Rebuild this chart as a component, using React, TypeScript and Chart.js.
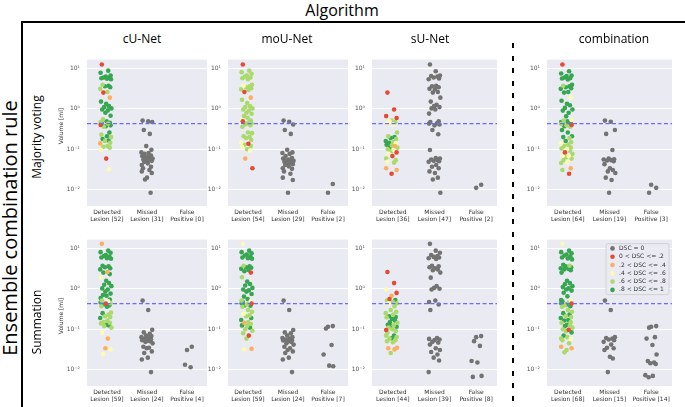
import React, { useEffect, useRef } from 'react';
import { Chart, registerables } from 'chart.js';
Chart.register(...registerables);

// ---------- text ----------
const MAIN_TITLE = 'Algorithm';
const SIDE_TITLE = 'Ensemble combination rule';
const COL_TITLES = ['cU-Net', 'moU-Net', 'sU-Net', 'combination'];
const ROW_TITLES = ['Majority voting', 'Summation'];
const Y_LABEL = 'Volume [ml]';
const CAT_LINE1 = ['Detected', 'Missed', 'False'];
const CAT_LINE2 = ['Lesion', 'Lesion', 'Positive'];
const Y_TICKS = [0.01, 0.1, 1, 10];
const Y_TICK_LABELS = ['10\u207B\u00B2', '10\u207B\u00B9', '10\u2070', '10\u00B9'];
const LEGEND_LABELS = ['DSC = 0', '0 < DSC <= .2', '.2 < DSC <= .4', '.4 < DSC <= .6', '.6 < DSC <= .8', '.8 < DSC <= 1'];
const THRESHOLD_ML = 0.43;
const Y_MIN = 0.004;
const Y_MAX = 16.3;

// ---------- data: detected lesions as [volume ml, DSC class 1..5] ----------
const CUNET_MV_DET: [number, number][] = [[12.3,1],[8.7,5],[7.7,5],[6.6,5],[6.2,5],[5.9,5],[5.8,5],[5.65,5],[5.5,5],[5.35,5],[3.9,4],[3.7,5],[3.6,5],[3.4,5],[3.1,4],[2.6,4],[2.5,1],[1.88,2],[1.5,5],[1.33,5],[1.16,5],[1.1,5],[1.02,5],[0.96,5],[0.91,5],[0.8,5],[0.67,5],[0.55,4],[0.49,5],[0.47,4],[0.45,5],[0.44,5],[0.43,4],[0.4,1],[0.39,5],[0.37,5],[0.36,4],[0.26,5],[0.23,4],[0.21,5],[0.2,4],[0.18,5],[0.165,5],[0.16,4],[0.145,4],[0.14,2],[0.12,4],[0.115,4],[0.11,4],[0.096,3],[0.059,1],[0.032,3]];
const CUNET_MV_MISS = [0.51,0.49,0.47,0.30,0.24,0.12,0.097,0.084,0.081,0.077,0.07,0.068,0.064,0.062,0.061,0.059,0.056,0.054,0.054,0.052,0.049,0.045,0.041,0.037,0.034,0.031,0.0285,0.026,0.020,0.018,0.0085];
const CUNET_MV_FP: number[] = [];
const CUNET_MV_COUNTS = [52, 31, 0];

const MOUNET_MV_DET: [number, number][] = [[12.3,1],[8.7,4],[8.0,4],[7.3,4],[6.6,4],[6.2,4],[5.9,4],[5.65,4],[5.35,4],[3.9,4],[3.7,3],[3.6,4],[3.4,4],[3.2,4],[3.0,4],[2.9,4],[2.6,1],[1.88,2],[1.66,4],[1.38,4],[1.16,4],[1.1,4],[1.02,4],[0.96,4],[0.9,4],[0.8,4],[0.75,4],[0.66,4],[0.6,4],[0.53,3],[0.51,4],[0.49,1],[0.47,4],[0.45,3],[0.44,4],[0.43,4],[0.41,4],[0.39,4],[0.36,4],[0.26,4],[0.25,4],[0.21,4],[0.2,4],[0.19,4],[0.17,4],[0.145,3],[0.137,1],[0.13,4],[0.12,4],[0.115,3],[0.1,4],[0.092,3],[0.059,2],[0.034,1]];
const MOUNET_MV_MISS = [0.51,0.48,0.41,0.30,0.24,0.097,0.084,0.081,0.077,0.068,0.061,0.059,0.056,0.054,0.053,0.052,0.049,0.047,0.045,0.043,0.041,0.038,0.034,0.033,0.0285,0.025,0.020,0.0175,0.0085];
const MOUNET_MV_FP = [0.014, 0.0085];
const MOUNET_MV_COUNTS = [54, 29, 2];

const SUNET_MV_DET: [number, number][] = [[2.5,1],[0.96,1],[0.66,1],[0.59,1],[0.51,4],[0.49,3],[0.47,4],[0.44,3],[0.41,3],[0.26,4],[0.21,4],[0.2,5],[0.19,5],[0.18,4],[0.16,5],[0.15,4],[0.145,5],[0.14,3],[0.13,5],[0.125,4],[0.12,2],[0.115,5],[0.11,4],[0.1,4],[0.097,3],[0.09,4],[0.084,1],[0.077,3],[0.068,1],[0.059,4],[0.054,4],[0.049,3],[0.047,4],[0.034,2],[0.031,2],[0.025,1]];
const SUNET_MV_MISS = [12.3,8.4,6.6,6.4,6.2,5.9,5.55,5.35,3.7,3.6,3.4,3.1,3.0,2.6,2.5,1.88,1.5,1.26,1.16,1.1,1.02,0.96,0.76,0.49,0.47,0.44,0.43,0.41,0.39,0.30,0.235,0.096,0.061,0.059,0.056,0.054,0.052,0.051,0.049,0.041,0.037,0.034,0.0285,0.026,0.020,0.018,0.0085];
const SUNET_MV_FP = [0.0134, 0.0112];
const SUNET_MV_COUNTS = [36, 47, 2];

const COMB_MV_DET: [number, number][] = [[12.3,1],[8.4,5],[7.4,5],[6.6,5],[6.4,5],[5.9,5],[5.7,5],[5.55,5],[5.3,5],[3.9,5],[3.7,4],[3.6,5],[3.4,5],[3.2,5],[3.1,5],[2.6,5],[2.5,5],[1.88,3],[1.57,5],[1.33,5],[1.22,5],[1.05,5],[0.96,5],[0.9,5],[0.8,5],[0.65,5],[0.53,3],[0.51,4],[0.49,5],[0.47,5],[0.45,5],[0.44,5],[0.43,5],[0.42,4],[0.4,1],[0.39,4],[0.37,5],[0.36,4],[0.3,5],[0.26,5],[0.21,5],[0.2,5],[0.19,4],[0.16,5],[0.15,4],[0.14,3],[0.13,4],[0.12,4],[0.11,4],[0.105,4],[0.1,3],[0.092,4],[0.084,1],[0.077,4],[0.07,3],[0.068,3],[0.064,4],[0.059,4],[0.054,4],[0.049,3],[0.046,4],[0.034,2],[0.031,4],[0.025,1]];
const COMB_MV_MISS = [0.51,0.48,0.30,0.24,0.096,0.059,0.057,0.056,0.054,0.053,0.051,0.043,0.034,0.031,0.0285,0.026,0.020,0.0175,0.0085];
const COMB_MV_FP = [0.0112, 0.0134, 0.0085];
const COMB_MV_COUNTS = [64, 19, 3];

const CUNET_SUM_DET: [number, number][] = [[12.8,2],[8.7,5],[8.0,5],[7.7,5],[6.8,5],[6.4,5],[6.2,5],[5.9,5],[5.65,5],[5.5,5],[3.7,5],[3.6,5],[3.4,5],[3.2,5],[3.0,5],[2.6,2],[2.5,5],[2.3,5],[1.88,3],[1.57,5],[1.38,5],[1.26,5],[1.16,5],[1.02,5],[0.96,5],[0.85,5],[0.76,5],[0.7,5],[0.67,5],[0.59,5],[0.54,5],[0.51,4],[0.49,3],[0.46,5],[0.44,4],[0.43,1],[0.41,5],[0.39,5],[0.37,4],[0.36,5],[0.26,4],[0.25,5],[0.23,4],[0.21,4],[0.2,4],[0.19,5],[0.165,4],[0.15,4],[0.145,4],[0.14,4],[0.13,5],[0.125,5],[0.12,4],[0.11,4],[0.084,3],[0.059,2],[0.034,2],[0.032,3],[0.0245,3]];
const CUNET_SUM_MISS = [0.51,0.30,0.097,0.084,0.077,0.07,0.068,0.064,0.061,0.059,0.056,0.054,0.052,0.051,0.049,0.045,0.037,0.035,0.034,0.0285,0.026,0.020,0.018,0.0088];
const CUNET_SUM_FP = [0.037, 0.031, 0.0134, 0.0116];
const CUNET_SUM_COUNTS = [59, 24, 4];

const MOUNET_SUM_DET: [number, number][] = [[12.8,3],[8.7,5],[8.0,5],[7.5,5],[7.0,5],[6.6,5],[6.2,5],[5.9,5],[5.65,5],[5.5,5],[3.7,4],[3.6,5],[3.4,5],[3.3,5],[3.1,5],[2.9,5],[2.7,5],[2.5,1],[1.92,4],[1.5,5],[1.31,5],[1.2,5],[1.05,5],[0.96,5],[0.91,5],[0.85,5],[0.74,5],[0.64,5],[0.56,5],[0.51,4],[0.49,3],[0.47,5],[0.45,4],[0.44,5],[0.43,1],[0.41,4],[0.39,5],[0.38,5],[0.36,4],[0.3,4],[0.27,4],[0.24,3],[0.22,4],[0.21,4],[0.19,5],[0.17,5],[0.15,4],[0.145,2],[0.135,4],[0.125,5],[0.12,4],[0.11,5],[0.1,4],[0.092,4],[0.08,4],[0.07,1],[0.059,4],[0.033,2],[0.032,3]];
const MOUNET_SUM_MISS = [0.51,0.30,0.096,0.084,0.08,0.07,0.064,0.061,0.059,0.056,0.054,0.053,0.051,0.049,0.045,0.042,0.037,0.034,0.031,0.0285,0.026,0.020,0.018,0.0088];
const MOUNET_SUM_FP = [0.12, 0.116, 0.105, 0.041, 0.024, 0.0127, 0.0123];
const MOUNET_SUM_COUNTS = [59, 24, 7];

const SUNET_SUM_DET: [number, number][] = [[2.6,1],[1.38,1],[0.96,3],[0.79,1],[0.67,2],[0.56,1],[0.53,5],[0.51,4],[0.47,4],[0.44,4],[0.43,3],[0.37,4],[0.3,4],[0.27,4],[0.25,4],[0.23,4],[0.21,5],[0.2,5],[0.197,4],[0.18,5],[0.165,5],[0.15,5],[0.145,4],[0.13,5],[0.125,4],[0.12,5],[0.116,5],[0.11,4],[0.1,4],[0.096,1],[0.09,4],[0.084,4],[0.07,5],[0.07,4],[0.064,4],[0.06,5],[0.059,4],[0.054,4],[0.051,4],[0.048,4],[0.035,2],[0.034,2],[0.032,2],[0.026,4]];
const SUNET_SUM_MISS = [12.8,8.7,7.7,6.8,6.4,6.1,5.9,5.65,5.4,3.7,3.6,3.4,3.2,3.0,2.85,2.5,1.88,1.16,1.05,1.0,0.96,0.51,0.47,0.41,0.30,0.061,0.058,0.056,0.054,0.049,0.047,0.042,0.034,0.031,0.0275,0.024,0.020,0.017,0.0088];
const SUNET_SUM_FP = [0.068, 0.064, 0.051, 0.039, 0.0165, 0.0152, 0.0071, 0.0067];
const SUNET_SUM_COUNTS = [44, 39, 8];

const COMB_SUM_DET: [number, number][] = [[12.8,3],[8.7,5],[8.0,5],[7.5,5],[7.0,5],[6.6,5],[6.2,5],[5.9,5],[5.55,5],[5.3,5],[3.9,5],[3.7,4],[3.6,5],[3.4,5],[3.2,5],[3.1,5],[3.0,5],[2.85,5],[2.5,5],[1.57,5],[1.38,5],[1.3,5],[1.16,5],[1.1,5],[1.02,5],[0.96,5],[0.9,5],[0.8,5],[0.65,5],[0.53,5],[0.51,3],[0.49,5],[0.47,4],[0.44,5],[0.43,1],[0.41,5],[0.39,4],[0.37,5],[0.36,4],[0.3,4],[0.27,4],[0.25,5],[0.23,5],[0.21,4],[0.2,4],[0.19,5],[0.17,5],[0.165,5],[0.15,4],[0.145,4],[0.13,5],[0.125,4],[0.12,5],[0.11,4],[0.1,4],[0.097,1],[0.09,4],[0.084,5],[0.07,5],[0.064,4],[0.059,4],[0.058,3],[0.054,4],[0.045,4],[0.037,2],[0.034,2],[0.031,4],[0.027,4]];
const COMB_SUM_MISS = [0.51,0.30,0.064,0.061,0.059,0.056,0.054,0.049,0.042,0.035,0.034,0.031,0.021,0.019,0.0088];
const COMB_SUM_FP = [0.12,0.116,0.11,0.064,0.059,0.041,0.024,0.0165,0.0152,0.0145,0.014,0.0074,0.0071,0.0066];
const COMB_SUM_COUNTS = [68, 15, 14];

// strip-plot horizontal offsets (category units), cycled
const JITTER = [-0.1,0.06,-0.13,0.12,0.0,-0.05,0.09,-0.11,0.03,0.13,-0.08,0.07,-0.02,0.11,-0.14,0.04,-0.06,0.1,-0.12,0.01,0.08,-0.04,0.14,-0.09,0.05,-0.01,0.12,-0.07,0.02,-0.13,0.1];

// ---------- style ----------
const CLASS_COLORS = ['#737373', '#e64b32', '#fdae61', '#fbfbb6', '#a9da6b', '#36a651'];
const BG = '#EAEAF2';
const COL_X = [[87, 207], [228, 348], [372, 497], [547, 672]];
const ROW_Y = [[53, 206], [233, 386]];
const Y_AXIS_W = 30;
const X_AXIS_H = 24;
const PAD_T = 4;
const PAD_R = 2;

type Spec = { row: number; col: number; det: [number, number][]; miss: number[]; fp: number[]; counts: number[]; legend?: boolean };

const PANELS: Spec[] = [
  { row: 0, col: 0, det: CUNET_MV_DET, miss: CUNET_MV_MISS, fp: CUNET_MV_FP, counts: CUNET_MV_COUNTS },
  { row: 0, col: 1, det: MOUNET_MV_DET, miss: MOUNET_MV_MISS, fp: MOUNET_MV_FP, counts: MOUNET_MV_COUNTS },
  { row: 0, col: 2, det: SUNET_MV_DET, miss: SUNET_MV_MISS, fp: SUNET_MV_FP, counts: SUNET_MV_COUNTS },
  { row: 0, col: 3, det: COMB_MV_DET, miss: COMB_MV_MISS, fp: COMB_MV_FP, counts: COMB_MV_COUNTS },
  { row: 1, col: 0, det: CUNET_SUM_DET, miss: CUNET_SUM_MISS, fp: CUNET_SUM_FP, counts: CUNET_SUM_COUNTS },
  { row: 1, col: 1, det: MOUNET_SUM_DET, miss: MOUNET_SUM_MISS, fp: MOUNET_SUM_FP, counts: MOUNET_SUM_COUNTS },
  { row: 1, col: 2, det: SUNET_SUM_DET, miss: SUNET_SUM_MISS, fp: SUNET_SUM_FP, counts: SUNET_SUM_COUNTS },
  { row: 1, col: 3, det: COMB_SUM_DET, miss: COMB_SUM_MISS, fp: COMB_SUM_FP, counts: COMB_SUM_COUNTS, legend: true },
];

const bgPlugin = {
  id: 'panelBg',
  beforeDraw(chart: any) {
    const { ctx, chartArea } = chart;
    ctx.save();
    ctx.fillStyle = BG;
    ctx.fillRect(chartArea.left, chartArea.top, chartArea.right - chartArea.left, chartArea.bottom - chartArea.top);
    ctx.restore();
  },
};

const legendPlugin = {
  id: 'dscLegend',
  afterDraw(chart: any) {
    const { ctx, chartArea } = chart;
    const bw = 63, bh = 51;
    const bx = chartArea.right - bw - 3, by = chartArea.top + 4;
    ctx.save();
    ctx.fillStyle = 'rgba(234,234,242,0.85)';
    ctx.strokeStyle = '#cccccc';
    ctx.lineWidth = 0.8;
    ctx.beginPath();
    ctx.roundRect(bx, by, bw, bh, 2);
    ctx.fill();
    ctx.stroke();
    ctx.font = '6px "DejaVu Sans"';
    ctx.textBaseline = 'middle';
    LEGEND_LABELS.forEach((lab, i) => {
      const cy = by + 4.8 + i * 8.3;
      ctx.fillStyle = CLASS_COLORS[i];
      ctx.beginPath();
      ctx.arc(bx + 6.5, cy, 2.3, 0, Math.PI * 2);
      ctx.fill();
      ctx.fillStyle = '#333';
      ctx.fillText(lab, bx + 13, cy);
    });
    ctx.restore();
  },
};

function Panel({ spec }: { spec: Spec }) {
  const ref = useRef<HTMLCanvasElement>(null);
  const [l, r] = COL_X[spec.col];
  const [t, b] = ROW_Y[spec.row];
  const w = Y_AXIS_W + (r - l) + PAD_R;
  const h = PAD_T + (b - t) + X_AXIS_H;

  useEffect(() => {
    if (!ref.current) return;
    const pointStyle = (color: string) => ({
      backgroundColor: color,
      borderWidth: 0,
      pointRadius: 2.3,
      pointHoverRadius: 2.3,
    });
    const datasets: any[] = [
      {
        data: [{ x: -0.5, y: THRESHOLD_ML }, { x: 2.5, y: THRESHOLD_ML }],
        showLine: true,
        borderColor: '#6b6bff',
        borderWidth: 1.2,
        borderDash: [4, 2.5],
        pointRadius: 0,
      },
    ];
    for (let c = 1; c <= 5; c++) {
      const pts: any[] = [];
      spec.det.forEach(([v, cls], i) => {
        if (cls === c) pts.push({ x: 0 - 0.03 + JITTER[i % JITTER.length], y: v });
      });
      datasets.push({ data: pts, ...pointStyle(CLASS_COLORS[c]) });
    }
    datasets.push({
      data: spec.miss.map((v, i) => ({ x: 1 + JITTER[(i + 7) % JITTER.length], y: v })),
      ...pointStyle(CLASS_COLORS[0]),
    });
    datasets.push({
      data: spec.fp.map((v, i) => ({ x: 2 + JITTER[(i + 3) % JITTER.length], y: v })),
      ...pointStyle(CLASS_COLORS[0]),
    });

    const chart = new Chart(ref.current, {
      type: 'scatter',
      data: { datasets },
      options: {
        animation: false,
        responsive: false,
        devicePixelRatio: 1,
        events: [],
        layout: { padding: { top: PAD_T, right: PAD_R, left: 0, bottom: 0 }, autoPadding: false },
        plugins: { legend: { display: false }, tooltip: { enabled: false } },
        scales: {
          x: {
            type: 'linear',
            min: -0.5,
            max: 2.5,
            afterBuildTicks: (s: any) => { s.ticks = [0, 1, 2].map((v) => ({ value: v })); },
            afterFit: (s: any) => { s.height = X_AXIS_H; },
            ticks: {
              callback: (_v: any, i: number) => [CAT_LINE1[i], `${CAT_LINE2[i]} [${spec.counts[i]}]`],
              font: { family: 'DejaVu Sans', size: 6 },
              color: '#333',
              padding: 3,
              maxRotation: 0,
              autoSkip: false,
            },
            grid: { display: false, drawTicks: false },
            border: { display: false },
          },
          y: {
            type: 'logarithmic',
            min: Y_MIN,
            max: Y_MAX,
            afterBuildTicks: (s: any) => { s.ticks = Y_TICKS.map((v) => ({ value: v })); },
            afterFit: (s: any) => { s.width = Y_AXIS_W; },
            ticks: {
              callback: (_v: any, i: number) => Y_TICK_LABELS[i],
              font: { family: 'DejaVu Sans', size: 6 },
              color: '#555',
              padding: 7,
              autoSkip: false,
            },
            grid: { color: '#ffffff', lineWidth: 1, drawTicks: false },
            border: { display: false },
          },
        },
      } as any,
      plugins: spec.legend ? [bgPlugin, legendPlugin] : [bgPlugin],
    });
    return () => chart.destroy();
  }, []);

  return (
    <canvas
      ref={ref}
      width={w}
      height={h}
      style={{ position: 'absolute', left: l - Y_AXIS_W, top: t - PAD_T, width: w, height: h }}
    />
  );
}

function Txt({ x, y, size, rot, family, color, children }: any) {
  return (
    <div
      style={{
        position: 'absolute',
        left: x,
        top: y,
        transform: `translate(-50%, -50%)${rot ? ' rotate(-90deg)' : ''}`,
        fontSize: size,
        fontFamily: family || '"Open Sans", sans-serif',
        color: color || '#000',
        whiteSpace: 'nowrap',
        lineHeight: 1,
      }}
    >
      {children}
    </div>
  );
}

const TITLE_X = [142, 287, 430, 614];

export default function App() {
  return (
    <div style={{ position: 'fixed', left: 0, top: 0, width: 685, height: 407, background: '#fff', overflow: 'hidden' }}>
      {PANELS.map((p, i) => <Panel key={i} spec={p} />)}
      <div style={{ position: 'absolute', left: 21, top: 21, width: 664, height: 1.5, background: '#000' }} />
      <div style={{ position: 'absolute', left: 21, top: 21, width: 1.5, height: 386, background: '#000' }} />
      <div
        style={{
          position: 'absolute', left: 512, top: 43, width: 1.5, height: 364,
          background: 'repeating-linear-gradient(to bottom, #000 0px, #000 5px, transparent 5px, transparent 12.6px)',
        }}
      />
      <Txt x={342} y={10} size={16}>{MAIN_TITLE}</Txt>
      <Txt x={10} y={228} size={20} rot>{SIDE_TITLE}</Txt>
      <Txt x={37} y={137} size={12} rot>{ROW_TITLES[0]}</Txt>
      <Txt x={37} y={322} size={12} rot>{ROW_TITLES[1]}</Txt>
      <Txt x={61} y={126} size={6} rot family='"DejaVu Sans"' color="#333">{Y_LABEL}</Txt>
      <Txt x={61} y={316} size={6} rot family='"DejaVu Sans"' color="#333">{Y_LABEL}</Txt>
      {COL_TITLES.map((tt, i) => (
        <Txt key={tt} x={TITLE_X[i]} y={39} size={12}>{tt}</Txt>
      ))}
    </div>
  );
}
